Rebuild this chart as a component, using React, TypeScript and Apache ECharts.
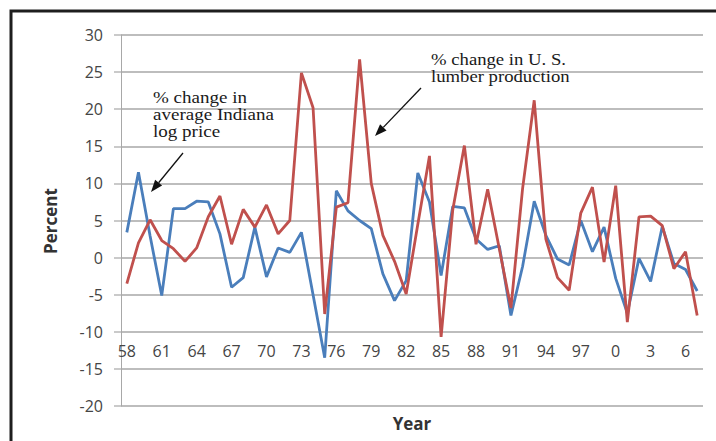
import React, { useEffect, useRef } from "react";
import * as echarts from "echarts";

// Year labels (two-digit, as printed on the axis)
const years: string[] = [
  "58", "59", "60", "61", "62", "63", "64", "65", "66", "67",
  "68", "69", "70", "71", "72", "73", "74", "75", "76", "77",
  "78", "79", "80", "81", "82", "83", "84", "85", "86", "87",
  "88", "89", "90", "91", "92", "93", "94", "95", "96", "97",
  "98", "99", "0", "1", "2", "3", "4", "5", "6", "7",
];

// % change in average Indiana log price
const logPriceChange: number[] = [
  3.4, 11.5, 2.9, -5.1, 6.6, 6.6, 7.6, 7.5, 3.2, -4.0,
  -2.7, 4.1, -2.6, 1.3, 0.7, 3.4, -5.0, -13.5, 9.0, 6.3,
  5.0, 3.9, -2.2, -5.8, -3.1, 11.4, 7.5, -2.4, 6.9, 6.7,
  2.5, 1.1, 1.6, -7.8, -1.2, 7.6, 3.0, -0.2, -1.0, 5.0,
  0.8, 4.1, -2.8, -7.5, -0.1, -3.2, 4.2, -0.8, -1.6, -4.5,
];

// % change in U.S. lumber production
const lumberChange: number[] = [
  -3.5, 2.0, 5.1, 2.3, 1.2, -0.5, 1.3, 5.5, 8.3, 1.8,
  6.5, 4.1, 7.1, 3.2, 5.0, 24.9, 20.2, -7.6, 6.8, 7.4,
  26.7, 10.0, 3.0, -0.5, -4.9, 4.5, 13.7, -10.7, 6.4, 15.1,
  1.8, 9.2, 1.2, -6.8, 9.3, 21.2, 2.5, -2.7, -4.4, 6.0,
  9.5, -0.6, 9.7, -8.7, 5.5, 5.6, 4.3, -1.5, 0.8, -7.8,
];

const Y_MIN = -20;
const Y_MAX = 30;
const Y_STEP = 5;

// Arrow built from a shaft and a filled head
function arrow(x1: number, y1: number, x2: number, y2: number) {
  const ang = Math.atan2(y2 - y1, x2 - x1);
  const len = 12;
  const half = 4.5;
  const bx = x2 - len * Math.cos(ang);
  const by = y2 - len * Math.sin(ang);
  const px = -Math.sin(ang) * half;
  const py = Math.cos(ang) * half;
  return [
    {
      type: "line",
      shape: { x1, y1, x2: bx, y2: by },
      style: { stroke: "#111", lineWidth: 1.3 },
      z: 10,
    },
    {
      type: "polygon",
      shape: { points: [[x2, y2], [bx + px, by + py], [bx - px, by - py]] },
      style: { fill: "#111" },
      z: 10,
    },
  ];
}

const serifFont = '"Liberation Serif", "DejaVu Serif", serif';
const sansFont = '"Open Sans", "Liberation Sans", sans-serif';

export default function App() {
  const ref = useRef<HTMLDivElement>(null);

  useEffect(() => {
    if (!ref.current) return;
    const chart = echarts.init(ref.current, null, { renderer: "svg" });
    chart.setOption({
      animation: false,
      backgroundColor: "#ffffff",
      grid: { left: 121, right: 13, top: 35, bottom: 35 },
      xAxis: {
        type: "category",
        data: years,
        boundaryGap: true,
        offset: -70,
        axisLine: { show: false },
        axisTick: { show: false },
        splitLine: { show: false },
        axisLabel: {
          interval: 2,
          margin: 7,
          color: "#454545",
          fontFamily: sansFont,
          fontSize: 16,
        },
      },
      yAxis: {
        type: "value",
        min: Y_MIN,
        max: Y_MAX,
        interval: Y_STEP,
        axisLine: { show: true, lineStyle: { color: "#a8a8a8", width: 1 } },
        axisTick: { show: true, length: 7, lineStyle: { color: "#b8b8b8", width: 1.5 } },
        splitLine: { show: true, lineStyle: { color: "#bdbdbd", width: 2 } },
        axisLabel: {
          margin: 18,
          color: "#454545",
          fontFamily: sansFont,
          fontSize: 16,
        },
      },
      series: [
        {
          name: "% change in average Indiana log price",
          type: "line",
          data: logPriceChange,
          symbol: "none",
          lineStyle: { color: "#4a7ebb", width: 2.8 },
          z: 2,
        },
        {
          name: "% change in U. S. lumber production",
          type: "line",
          data: lumberChange,
          symbol: "none",
          lineStyle: { color: "#c0504d", width: 2.8 },
          z: 3,
        },
      ],
      graphic: [
        {
          type: "rect",
          shape: { x: 11, y: 11, width: 760, height: 480 },
          style: { fill: "none", stroke: "#1e1e1e", lineWidth: 3 },
          z: 20,
        },
        {
          type: "text",
          x: 50,
          y: 221,
          rotation: Math.PI / 2,
          style: {
            text: "Percent",
            fill: "#333",
            font: `bold 17px ${sansFont}`,
            align: "center",
            verticalAlign: "middle",
          },
        },
        {
          type: "text",
          x: 412,
          y: 423,
          style: {
            text: "Year",
            fill: "#333",
            font: `bold 17px ${sansFont}`,
            align: "center",
            verticalAlign: "middle",
          },
        },
        {
          type: "text",
          x: 153,
          y: 89,
          scaleX: 1.12,
          style: {
            text: "% change in\naverage Indiana\nlog price",
            fill: "#1a1a1a",
            font: `17px ${serifFont}`,
            lineHeight: 17,
          },
          z: 10,
        },
        ...arrow(183, 153, 151, 192),
        {
          type: "text",
          x: 431,
          y: 51,
          scaleX: 1.1,
          style: {
            text: "% change in U. S.\nlumber production",
            fill: "#1a1a1a",
            font: `17px ${serifFont}`,
            lineHeight: 17,
          },
          z: 10,
        },
        ...arrow(421, 88, 375, 136),
      ],
    });
    return () => chart.dispose();
  }, []);

  return (
    <div
      ref={ref}
      style={{ position: "fixed", left: 0, top: 0, width: 716, height: 441 }}
    />
  );
}
